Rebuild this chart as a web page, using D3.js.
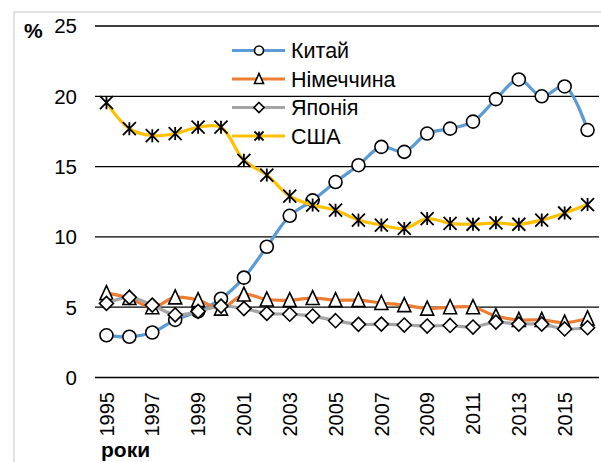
<!DOCTYPE html>
<html><head><meta charset="utf-8">
<script src="https://cdn.jsdelivr.net/npm/d3@7"></script>
<style>body{margin:0;background:#fff}svg{display:block}text{font-family:"Liberation Sans",Arial,sans-serif}</style>
</head><body><svg id="c" width="601" height="462"></svg>
<script>
const years = [1995,1996,1997,1998,1999,2000,2001,2002,2003,2004,2005,2006,2007,2008,2009,2010,2011,2012,2013,2014,2015,2016];
const china   = [3.0,2.9,3.2,4.1,4.7,5.6,7.1,9.3,11.5,12.6,13.9,15.1,16.4,16.05,17.35,17.7,18.2,19.8,21.2,20.0,20.7,17.6];
const germany = [6.0,5.65,5.0,5.7,5.5,4.9,5.9,5.55,5.5,5.65,5.5,5.5,5.3,5.15,4.9,5.0,5.0,4.37,4.1,4.1,3.9,4.2];
const japan   = [5.27,5.7,5.15,4.45,4.7,5.08,4.9,4.56,4.5,4.37,4.04,3.78,3.8,3.73,3.66,3.7,3.59,3.94,3.8,3.8,3.45,3.54];
const usa     = [19.55,17.7,17.2,17.35,17.8,17.8,15.45,14.4,12.9,12.26,11.9,11.2,10.84,10.6,11.3,10.96,10.9,11.0,10.9,11.2,11.7,12.3];
const yTicks = [0,5,10,15,20,25];
const seriesNames = ["Китай","Німеччина","Японія","США"];
const seriesColors = ["#5B9BD5","#ED7D31","#A5A5A5","#FFC000"];
const seriesMarkers = ["circle","triangle","diamond","star"];
const seriesData = [china, germany, japan, usa];

const svg = d3.select("#c");
svg.append("rect").attr("x",14).attr("y",12).attr("width",620).attr("height",480)
  .attr("fill","#fff").attr("stroke","#d9d9d9").attr("stroke-width",1.5);

const pL=95, pR=599, pT=26, pB=377.5;
const x = d3.scaleBand().domain(years).range([pL,pR]);
const y = d3.scaleLinear().domain([0,25]).range([pB,pT]);
const cx = d => x(d)+x.bandwidth()/2;

svg.append("g").selectAll("line").data(yTicks).join("line")
  .attr("x1",pL).attr("x2",pR).attr("y1",d=>y(d)).attr("y2",d=>y(d))
  .attr("stroke","#000").attr("stroke-width",1.3);

svg.append("g").selectAll("text").data(yTicks).join("text")
  .attr("x",77).attr("y",d=>y(d)).attr("dy","0.36em").attr("text-anchor","end")
  .attr("font-size",20.5).attr("fill","#000").text(d=>d);
svg.append("text").attr("x",24).attr("y",37.5).attr("font-size",21).attr("font-weight","bold").text("%");

svg.append("g").selectAll("text").data(years.filter((d,i)=>i%2===0)).join("text")
  .attr("transform",d=>`translate(${cx(d)},392) rotate(-90)`)
  .attr("dy","0.36em").attr("text-anchor","end").attr("font-size",20).text(d=>d);
svg.append("text").attr("x",101).attr("y",457).attr("font-size",21).attr("font-weight","bold").text("роки");

function marker(g, type, s){
  const sw=1.6;
  if(type==="circle") g.append("circle").attr("r",s/2).attr("fill","#fff").attr("stroke","#000").attr("stroke-width",sw);
  else if(type==="triangle"){
    const h=s; g.append("path").attr("d",`M0,${-h/2-1}L${s/2},${h/2}L${-s/2},${h/2}Z`).attr("fill","#fff").attr("stroke","#000").attr("stroke-width",sw);
  } else if(type==="diamond"){
    const r=s/2+0.5; g.append("path").attr("d",`M0,${-r}L${r},0L0,${r}L${-r},0Z`).attr("fill","#fff").attr("stroke","#000").attr("stroke-width",sw);
  } else if(type==="star"){
    const r=s/2;
    g.append("path").attr("d",`M0,${-r}L0,${r}M${-r},${-r}L${r},${r}M${r},${-r}L${-r},${r}`).attr("stroke","#000").attr("stroke-width",1.8).attr("fill","none");
  }
}

const line = d3.line().x((d,i)=>cx(years[i])).y(d=>y(d)).curve(d3.curveCatmullRom.alpha(0.5));
seriesData.forEach((data,k)=>{
  const g = svg.append("g");
  g.append("path").attr("d",line(data)).attr("fill","none").attr("stroke",seriesColors[k]).attr("stroke-width",3.2);
  data.forEach((v,i)=>{
    const m = g.append("g").attr("transform",`translate(${cx(years[i])},${y(v)})`);
    marker(m, seriesMarkers[k], 13);
  });
});

const lg = svg.append("g");
seriesNames.forEach((n,k)=>{
  const yy = 50.5 + k*28.5;
  lg.append("line").attr("x1",232).attr("x2",285).attr("y1",yy).attr("y2",yy).attr("stroke",seriesColors[k]).attr("stroke-width",3.2);
  const m = lg.append("g").attr("transform",`translate(259,${yy})`);
  marker(m, seriesMarkers[k], 9);
  lg.append("text").attr("x",291).attr("y",yy).attr("dy","0.36em").attr("font-size",21.5).text(n);
});
</script></body></html>
